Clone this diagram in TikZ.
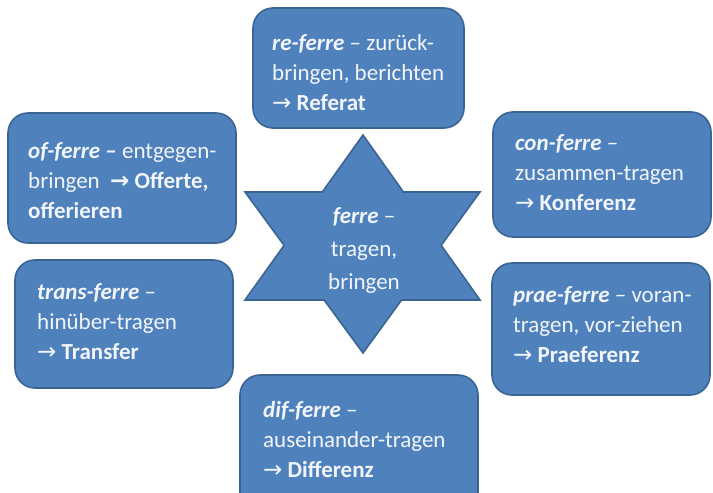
\documentclass[tikz,border=0pt]{standalone}
\usepackage{fontspec}
\setmainfont{Carlito}
\newfontfamily\arrowfont{DejaVu Sans}
\usetikzlibrary{calc}
\definecolor{boxfill}{HTML}{4F81BD}
\definecolor{boxdraw}{HTML}{3A6494}
\definecolor{lighttext}{HTML}{F2F5FA}
\newcommand{\myarr}{{\arrowfont →}}
\newcommand{\myarrb}{{\arrowfont\bfseries →}}
\tikzset{
  termbox/.style={draw=boxdraw, fill=boxfill, line width=1.6pt, rounded corners=20pt},
  termtext/.style={text=lighttext, font=\fontsize{23}{30}\selectfont, align=left, inner sep=0pt, anchor=west},
  startext/.style={text=lighttext, font=\fontsize{23}{33}\selectfont, align=center, inner sep=0pt},
}
\begin{document}
\begin{tikzpicture}[x=1pt, y=-1pt]
\clip (0,0) rectangle (713,493);
\fill[white] (0,0) rectangle (713,493);

% boxes
\draw[termbox] (253,8) rectangle (464,128);
\draw[termbox] (8,113) rectangle (236,243);
\draw[termbox] (493,112) rectangle (711,237);
\draw[termbox] (15,260) rectangle (233,388);
\draw[termbox] (492,263) rectangle (710,395);
\draw[termbox] (240,375) rectangle (478,515);

% star
\coordinate (A) at (363,135);
\coordinate (B) at (245,300);
\coordinate (C) at (480,300);
\coordinate (D) at (245,192);
\coordinate (E) at (480,192);
\coordinate (F) at (363,353);
\draw[draw=boxdraw, fill=boxfill, line width=1.6pt, line join=miter]
  (A) -- (intersection of A--C and D--E) -- (E) -- (intersection of A--C and E--F)
  -- (C) -- (intersection of B--C and E--F) -- (F) -- (intersection of B--C and D--F)
  -- (B) -- (intersection of A--B and D--F) -- (D) -- (intersection of A--B and D--E) -- cycle;

\node[startext] (ferre) at (364,250) {\textbf{\textit{ferre}} –\\ tragen,\\ bringen};

\node[termtext] (re) at (272,73) {\textbf{\textit{re-ferre}} – zurück-\\ bringen, berichten\\ \myarr\ \textbf{Referat}};
\node[termtext] (of) at (28,181) {\textbf{\textit{of-ferre} –} entgegen-\\ bringen \ \textbf{\myarrb\ Offerte,}\\ \textbf{offerieren}};
\node[termtext] (con) at (515,173) {\textbf{\textit{con-ferre}} –\\ zusammen-tragen\\ \myarr\ \textbf{Konferenz}};
\node[termtext] (trans) at (37,322) {\textbf{\textit{trans-ferre}} –\\ hinüber-tragen\\ \myarr\ \textbf{Transfer}};
\node[termtext] (prae) at (513,325) {\textbf{\textit{prae-ferre}} – voran-\\ tragen, vor-ziehen\\ \myarr\ \textbf{Praeferenz}};
\node[termtext] (dif) at (263,440) {\textbf{\textit{dif-ferre}} –\\ auseinander-tragen\\ \myarr\ \textbf{Differenz}};
\end{tikzpicture}
\end{document}
